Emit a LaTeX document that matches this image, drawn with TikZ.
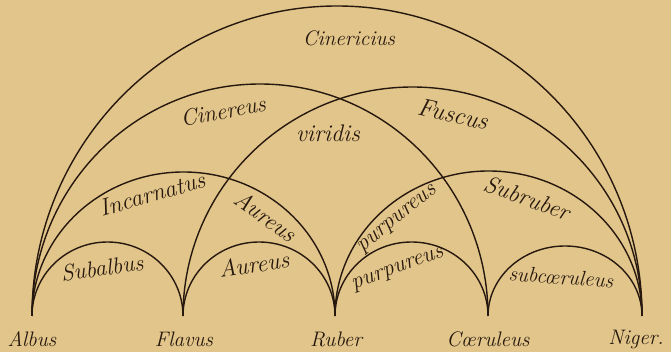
\documentclass[tikz,border=0pt]{standalone}
\usepackage{tikz}
\definecolor{parch}{RGB}{226,197,138}
\definecolor{ink}{RGB}{38,24,14}
\begin{document}
\begin{tikzpicture}[x=1pt,y=1pt,
  arch/.style={draw=ink,line width=1.4pt},
  lbl/.style={text=ink,font=\fontsize{24}{26}\selectfont\itshape,inner sep=0pt},
  base/.style={text=ink,font=\fontsize{21}{23}\selectfont\itshape,inner sep=0pt}]
\fill[parch] (0,0) rectangle (671,352);
\useasboundingbox (0,0) rectangle (671,352);
% base points
\coordinate (A) at (32,36);
\coordinate (F) at (183,36);
\coordinate (R) at (335,36);
\coordinate (C) at (488,36);
\coordinate (N) at (642,36);
% small arches
\draw[arch] (A) arc[start angle=180,end angle=0,x radius=75.5,y radius=74];
\draw[arch] (F) arc[start angle=180,end angle=0,x radius=76,y radius=74];
\draw[arch] (R) arc[start angle=180,end angle=0,x radius=76.5,y radius=74];
\draw[arch] (C) arc[start angle=180,end angle=0,x radius=77,y radius=70];
% medium arches
\draw[arch] (A) arc[start angle=180,end angle=0,x radius=151.5,y radius=144];
\draw[arch] (R) arc[start angle=180,end angle=0,x radius=153.5,y radius=145];
% large arches
\draw[arch] (A) arc[start angle=180,end angle=0,x radius=228,y radius=232];
\draw[arch] (F) arc[start angle=180,end angle=0,x radius=229.5,y radius=229];
% largest arch
\draw[arch] (A) arc[start angle=180,end angle=0,x radius=305,y radius=310];
% labels
\node[lbl,font=\fontsize{21}{23}\selectfont\itshape] (cinericius) at (349,314) {Cinericius};
\node[lbl,rotate=10,font=\fontsize{23}{25}\selectfont\itshape] (cinereus) at (223,241) {Cinereus};
\node[lbl] (viridis) at (328,219) {viridis};
\node[lbl,rotate=-13,font=\fontsize{25}{27}\selectfont\itshape] (fuscus) at (453,238) {Fuscus};
\node[lbl,rotate=16] (incarnatus) at (152,158) {Incarnatus};
\node[lbl,rotate=-36] (aureusm) at (266,136) {Aureus};
\node[lbl,rotate=8,font=\fontsize{23}{25}\selectfont\itshape] (subalbus) at (102,84) {Subalbus};
\node[lbl,rotate=8] (aureuss) at (254,88) {Aureus};
\node[lbl,rotate=39,font=\fontsize{23}{25}\selectfont\itshape] (purpureusm) at (398,132) {purpureus};
\node[lbl,rotate=-20] (subruber) at (527,154) {Subruber};
\node[lbl,rotate=20,font=\fontsize{23}{25}\selectfont\itshape] (purpureuss) at (398,82) {purpureus};
\node[lbl,rotate=-4,font=\fontsize{21}{23}\selectfont\itshape] (subcaeruleus) at (561,75) {subc\oe ruleus};
% base labels
\node[base] (albus) at (32,13) {Albus};
\node[base] (flavus) at (184,13) {Flavus};
\node[base] (ruber) at (336,13) {Ruber};
\node[base] (caeruleus) at (488,13) {C\oe ruleus};
\node[base] (niger) at (636,13) {Niger.};
\end{tikzpicture}
\end{document}
